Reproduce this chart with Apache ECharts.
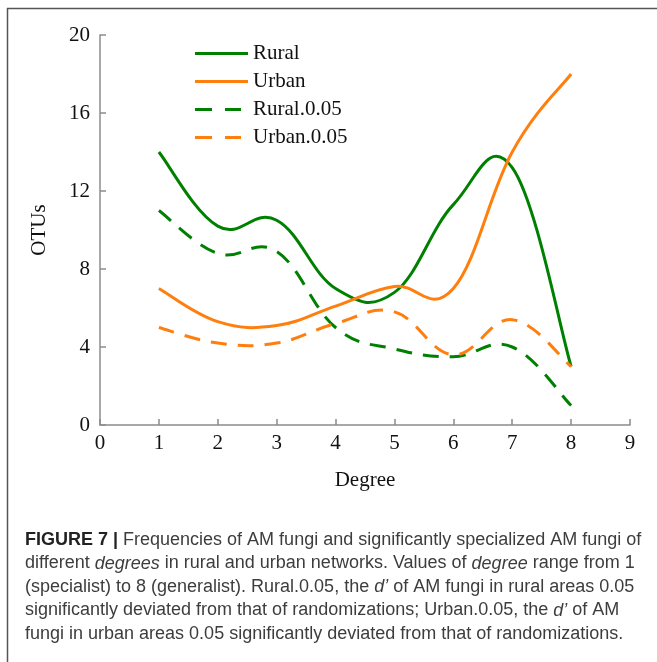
<!DOCTYPE html>
<html>
<head>
<meta charset="utf-8">
<script src="https://cdn.jsdelivr.net/npm/echarts@6/dist/echarts.min.js"></script>
<style>
html,body{margin:0;padding:0;background:#fff;}
#chart{width:657px;height:662px;}
</style>
</head>
<body>
<div id="chart"></div>
<script>
// ---- data ----
var degrees = [1, 2, 3, 4, 5, 6, 7, 8];
var rural = [14, 10.2, 10.5, 7.0, 6.8, 11.3, 13.2, 3];
var urban = [7, 5.3, 5.1, 6.1, 7.1, 7.0, 14, 18];
var rural005 = [11, 8.8, 8.9, 5.0, 3.9, 3.5, 4.0, 1.0];
var urban005 = [5, 4.2, 4.2, 5.2, 5.8, 3.6, 5.4, 3.0];
var seriesNames = ['Rural', 'Urban', 'Rural.0.05', 'Urban.0.05'];
var yTicks = [0, 4, 8, 12, 16, 20];
var xTicks = [0, 1, 2, 3, 4, 5, 6, 7, 8, 9];
var captionLines = [
  '{b|FIGURE 7 |} Frequencies of AM fungi and significantly specialized AM fungi of',
  'different {i|degrees} in rural and urban networks. Values of {i|degree} range from 1',
  '(specialist) to 8 (generalist). Rural.0.05, the {i|d\u2019} of AM fungi in rural areas 0.05',
  'significantly deviated from that of randomizations; Urban.0.05, the {i|d\u2019} of AM',
  'fungi in urban areas 0.05 significantly deviated from that of randomizations.'
];

function pairs(vals) { return degrees.map(function (d, i) { return [d, vals[i]]; }); }

var GREEN = '#008000', ORANGE = '#ff7f0e';
var serif = '"Liberation Serif", "Times New Roman", serif';
var sans = '"Liberation Sans", Arial, sans-serif';
var axisCol = '#8c8c8c';
var TENSION = 0.2;
var DASH = [16, 11];

var chart = echarts.init(document.getElementById('chart'));

// smooth curve through the data points (cardinal spline), placed by the axes via api.coord
function mkSeries(name, vals, color, dashed) {
  return {
    name: name, type: 'custom', data: pairs(vals),
    encode: { x: 0, y: 1 },
    color: color,
    itemStyle: { color: color },
    renderItem: function (params, api) {
      if (params.dataIndex !== 0) return null;
      var pts = vals.map(function (v, i) { return api.coord([degrees[i], v]); });
      var n = pts.length;
      var d = 'M' + pts[0][0] + ',' + pts[0][1];
      for (var i = 0; i < n - 1; i++) {
        var p0 = pts[Math.max(i - 1, 0)], p1 = pts[i], p2 = pts[i + 1], p3 = pts[Math.min(i + 2, n - 1)];
        var c1x = p1[0] + (p2[0] - p0[0]) * TENSION, c1y = p1[1] + (p2[1] - p0[1]) * TENSION;
        var c2x = p2[0] - (p3[0] - p1[0]) * TENSION, c2y = p2[1] - (p3[1] - p1[1]) * TENSION;
        d += ' C' + c1x + ',' + c1y + ' ' + c2x + ',' + c2y + ' ' + p2[0] + ',' + p2[1];
      }
      return {
        type: 'path',
        shape: { pathData: d },
        style: { fill: 'none', stroke: color, lineWidth: 3, lineDash: dashed ? DASH : null, lineJoin: 'round' }
      };
    }
  };
}

var SOLID_ICON = 'path://M0,-5.5h0.01v0.01h-0.01z M0,0h53v3h-53z M0,8.49h0.01v0.01h-0.01z';
var DASH_ICON = 'path://M0,-5.5h0.01v0.01h-0.01z M0,0h17v3h-17z M30,0h16v3h-16z M52.99,8.49h0.01v0.01h-0.01z';

var graphics = [
  { type: 'line', shape: { x1: 7, y1: 8.5, x2: 657, y2: 8.5 }, style: { stroke: '#555', lineWidth: 1.5 } },
  { type: 'line', shape: { x1: 7.5, y1: 8, x2: 7.5, y2: 662 }, style: { stroke: '#555', lineWidth: 1.5 } }
];
captionLines.forEach(function (t, i) {
  graphics.push({
    type: 'text', left: 25, top: 531 + i * 23.5,
    style: {
      text: t, fill: '#3d3d3d',
      font: '18px ' + sans,
      rich: {
        b: { fontWeight: 'bold', fill: '#222', fontSize: 18, fontFamily: sans },
        i: { fontStyle: 'italic', fill: '#3d3d3d', fontSize: 18, fontFamily: sans }
      }
    }
  });
});

chart.setOption({
  animation: false,
  backgroundColor: '#fff',
  grid: { left: 100, right: 27, top: 35, bottom: 237, containLabel: false },
  legend: {
    orient: 'vertical', left: 195, top: 43, padding: 0,
    itemWidth: 53, itemHeight: 14, itemGap: 7,
    data: [
      { name: seriesNames[0], icon: SOLID_ICON, itemStyle: { color: GREEN } },
      { name: seriesNames[1], icon: SOLID_ICON, itemStyle: { color: ORANGE } },
      { name: seriesNames[2], icon: DASH_ICON, itemStyle: { color: GREEN } },
      { name: seriesNames[3], icon: DASH_ICON, itemStyle: { color: ORANGE } }
    ],
    textStyle: { fontFamily: serif, fontSize: 21, color: '#111', lineHeight: 21 }
  },
  xAxis: {
    type: 'value', min: xTicks[0], max: xTicks[xTicks.length - 1], interval: 1,
    name: 'Degree', nameLocation: 'middle', nameGap: 45,
    nameTextStyle: { fontFamily: serif, fontSize: 21, color: '#111' },
    axisLine: { show: true, lineStyle: { color: axisCol, width: 1.5 } },
    axisTick: { show: true, inside: true, length: 6, lineStyle: { color: axisCol, width: 1.5 } },
    axisLabel: { fontFamily: serif, fontSize: 21, color: '#111', margin: 8 },
    splitLine: { show: false }
  },
  yAxis: {
    type: 'value', min: yTicks[0], max: yTicks[yTicks.length - 1], interval: 4,
    name: 'OTUs', nameLocation: 'middle', nameGap: 50, nameRotate: 90,
    nameTextStyle: { fontFamily: serif, fontSize: 21, color: '#111' },
    axisLine: { show: true, lineStyle: { color: axisCol, width: 1.5 } },
    axisTick: { show: true, inside: true, length: 6, lineStyle: { color: axisCol, width: 1.5 } },
    axisLabel: { fontFamily: serif, fontSize: 21, color: '#111', margin: 10 },
    splitLine: { show: false }
  },
  series: [
    mkSeries(seriesNames[0], rural, GREEN, false),
    mkSeries(seriesNames[1], urban, ORANGE, false),
    mkSeries(seriesNames[2], rural005, GREEN, true),
    mkSeries(seriesNames[3], urban005, ORANGE, true)
  ],
  graphic: graphics
});
</script>
</body>
</html>
